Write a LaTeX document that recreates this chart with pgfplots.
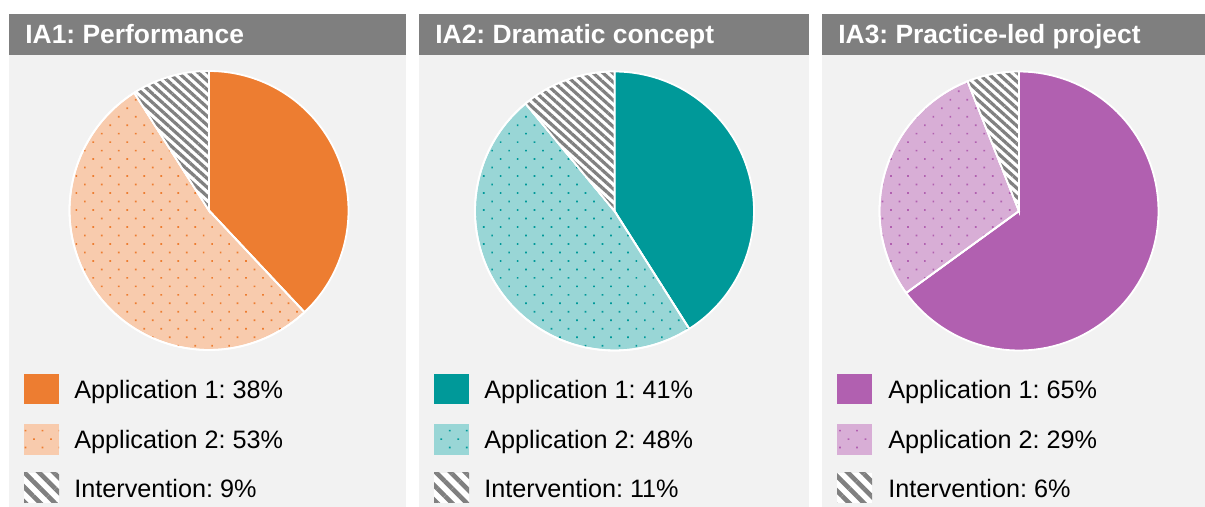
\documentclass[border=0pt]{standalone}
\usepackage{fontspec}
\setmainfont{Liberation Sans}
\usepackage{pgfplots}
\pgfplotsset{compat=1.18}
\usetikzlibrary{patterns.meta}
\definecolor{hdr}{HTML}{7F7F7F}
\definecolor{pbg}{HTML}{F2F2F2}
\definecolor{orD}{HTML}{ED7D31}
\definecolor{orL}{HTML}{F8CBAD}
\definecolor{tlD}{HTML}{009999}
\definecolor{tlL}{HTML}{99D6D6}
\definecolor{puD}{HTML}{B160B0}
\definecolor{puL}{HTML}{D8AED6}
\definecolor{stripe}{HTML}{808080}
\tikzset{
  dotfill/.style 2 args={fill=#2, postaction={pattern={Dots[angle=45,distance=6pt,radius=0.6pt]}, pattern color=#1}},
  stripefill/.style={fill=white, postaction={pattern={Lines[angle=-42,distance=3.3pt,line width=1.6pt]}, pattern color=stripe}},
  stripeleg/.style={fill=white, postaction={pattern={Lines[angle=-45,distance=5.2pt,line width=2.3pt]}, pattern color=stripe}},
}
% #1 centre coordinate name, #2 Application 1 (%), #3 Application 2 (%), #4 dark, #5 light
\newcommand{\piechart}[5]{%
  \pgfmathsetmacro\aA{90-3.6*#2}%
  \pgfmathsetmacro\aB{90-3.6*(#2+#3)}%
  \begin{axis}[at={(#1)}, anchor=center, hide axis, scale only axis,
      width=139.5pt, height=139.5pt, xmin=-1, xmax=1, ymin=-1, ymax=1, clip=false]
    \addplot[draw=white, line width=0.9pt, fill=#4, domain=\aA:90, samples=90, variable=\t]
      ({cos(\t)},{sin(\t)}) -- (axis cs:0,0) -- cycle;
    \addplot[draw=white, line width=0.9pt, dotfill={#4}{#5}, domain=\aB:\aA, samples=90, variable=\t]
      ({cos(\t)},{sin(\t)}) -- (axis cs:0,0) -- cycle;
    \addplot[draw=white, line width=0.9pt, stripefill, domain=-270:\aB, samples=40, variable=\t]
      ({cos(\t)},{sin(\t)}) -- (axis cs:0,0) -- cycle;
  \end{axis}%
}
\newcommand{\legendblock}[3]{% #1 swatch x, #2 dark, #3 light
  \fill[#2] (#1,374) rectangle ++(35,30);
  \fill[dotfill={#2}{#3}] (#1,424) rectangle ++(35,31);
  \fill[stripeleg] (#1,473) rectangle ++(35,30);
}
\begin{document}
\frenchspacing
\begin{tikzpicture}[x=0.5pt, y=-0.5pt]
  \fill[white] (0,0) rectangle (1205,507);
  % panels
  \fill[pbg] (9,14) rectangle (406,507);
  \fill[pbg] (419,14) rectangle (809,507);
  \fill[pbg] (822,14) rectangle (1205,507);
  \fill[hdr] (9,14) rectangle (406,55);
  \fill[hdr] (419,14) rectangle (809,55);
  \fill[hdr] (822,14) rectangle (1205,55);
  \begin{scope}[every node/.style={anchor=base west, inner sep=0pt, text=white, font=\bfseries\fontsize{13.2}{15}\selectfont}]
    \node at (25,43.5) {IA1: Performance};
    \node at (435,43.5) {IA2: Dramatic concept};
    \node at (838,43.5) {IA3: Practice-led project};
  \end{scope}
  \coordinate (c1) at (209,210.5);
  \coordinate (c2) at (614.5,211);
  \coordinate (c3) at (1019,211);
  % pies
  \piechart{c1}{38}{53}{orD}{orL}
  \piechart{c2}{41}{48}{tlD}{tlL}
  \piechart{c3}{65}{29}{puD}{puL}
  % legends
  \legendblock{24}{orD}{orL}
  \legendblock{434}{tlD}{tlL}
  \legendblock{837}{puD}{puL}
  \begin{scope}[every node/.style={anchor=base west, inner sep=0pt, text=black, font=\fontsize{12.6}{15}\selectfont}]
    \node at (74,399) {Application 1: 38\%};
    \node at (74,448.5) {Application 2: 53\%};
    \node at (74,497.5) {Intervention: 9\%};
    \node at (484,399) {Application 1: 41\%};
    \node at (484,448.5) {Application 2: 48\%};
    \node at (484,497.5) {Intervention: 11\%};
    \node at (888,399) {Application 1: 65\%};
    \node at (888,448.5) {Application 2: 29\%};
    \node at (888,497.5) {Intervention: 6\%};
  \end{scope}
\end{tikzpicture}
\end{document}
